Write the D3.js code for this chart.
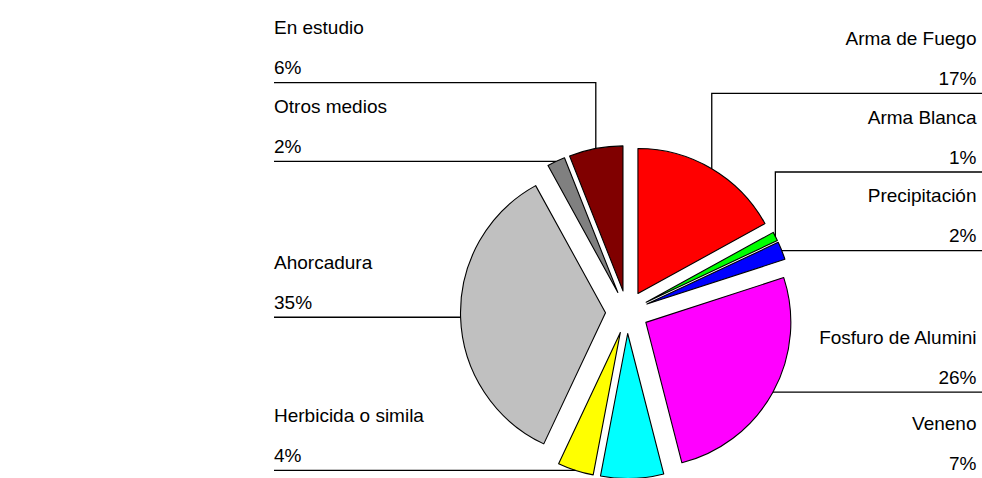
<!DOCTYPE html>
<html>
<head>
<meta charset="utf-8">
<script src="https://cdn.jsdelivr.net/npm/d3@7/dist/d3.min.js"></script>
<style>
  html, body { margin: 0; padding: 0; background: #fff; }
  svg { display: block; }
  text { font-family: "Liberation Sans", Arial, sans-serif; font-size: 19px; fill: #000; }
</style>
</head>
<body>
<svg id="chart" width="982" height="478"></svg>
<script>
// ---- data ----
const categories = ["Arma de Fuego", "Arma Blanca", "Precipitación", "Fosfuro de Alumini",
                    "Veneno", "Herbicida o simila", "Ahorcadura", "Otros medios", "En estudio"];
const values = [17, 1, 2, 26, 7, 4, 35, 2, 6];
const percentLabels = ["17%", "1%", "2%", "26%", "7%", "4%", "35%", "2%", "6%"];
const colors = ["#FF0000", "#00FF00", "#0000FF", "#FF00FF", "#00FFFF",
                "#FFFF00", "#C0C0C0", "#808080", "#800000"];

// ---- layout ----
const W = 982, H = 478;
const cx = 627, cy = 312, R = 145, explode = 21.5;
const leftX = 274, rightX = 976.5, lineRightEnd = 982;
const labelGap = 78.7;

const svg = d3.select("#chart");
const pie = d3.pie().sort(null).value(d => d.v).startAngle(0).endAngle(2 * Math.PI);
const arc = d3.arc().innerRadius(0).outerRadius(R);

const data = categories.map((c, i) => ({ name: c, v: values[i], pct: percentLabels[i], color: colors[i] }));
const arcs = pie(data);

arcs.forEach(a => {
  a.mid = (a.startAngle + a.endAngle) / 2;
  a.dx = Math.sin(a.mid) * explode;
  a.dy = -Math.cos(a.mid) * explode;
  a.px = cx + a.dx + Math.sin(a.mid) * R;
  a.py = cy + a.dy - Math.cos(a.mid) * R;
  a.side = Math.sin(a.mid) >= 0 ? "right" : "left";
});

const g = svg.append("g");
g.selectAll("path.slice")
  .data(arcs)
  .join("path")
  .attr("class", "slice")
  .attr("transform", a => `translate(${cx + a.dx},${cy + a.dy})`)
  .attr("d", arc)
  .attr("fill", a => a.data.color)
  .attr("stroke", "#000")
  .attr("stroke-width", 1.1)
  .attr("stroke-linejoin", "round");

// label line positions: start at arc mid, push upward to avoid overlap
["left", "right"].forEach(side => {
  const s = arcs.filter(a => a.side === side).sort((a, b) => b.py - a.py);
  let prev = Infinity;
  s.forEach(a => {
    a.ly = Math.min(a.py, prev - labelGap);
    prev = a.ly;
  });
});

const lab = svg.append("g");
arcs.forEach(a => {
  const isLeft = a.side === "left";
  const x0 = isLeft ? leftX : lineRightEnd;
  if (a.ly < H - 1) {
    const pts = [[x0, a.ly], [a.px, a.ly], [a.px, a.py]];
    lab.append("path")
      .attr("d", d3.line()(pts))
      .attr("fill", "none")
      .attr("stroke", "#000")
      .attr("stroke-width", 1.3);
  }
  const tx = isLeft ? leftX : rightX;
  const anchor = isLeft ? "start" : "end";
  lab.append("text").attr("x", tx).attr("y", a.ly - 48.5).attr("text-anchor", anchor).text(a.data.name);
  lab.append("text").attr("x", tx).attr("y", a.ly - 8.5).attr("text-anchor", anchor).text(a.data.pct);
});
</script>
</body>
</html>
